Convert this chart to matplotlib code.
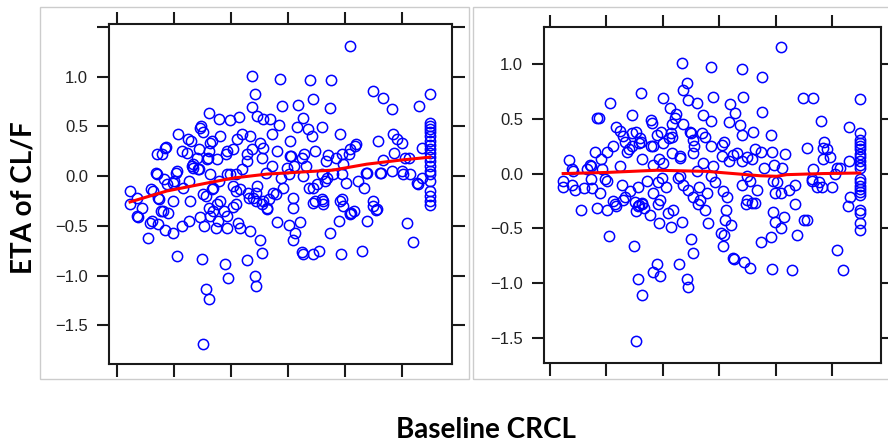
import numpy as np
import matplotlib
matplotlib.use("Agg")
import matplotlib.pyplot as plt
from matplotlib.patches import Rectangle

plt.rcParams["font.family"] = ["Liberation Sans", "DejaVu Sans"]

# ---- data: baseline CRCL vs ETA of CL/F, two panels
left_pts = [
    (101.8, 1.31), (67.4, 1.01), (77.2, 0.98), (87.7, 0.97), (95.1, 0.97), (68.4, 0.83), (88.8, 0.78), (109.8, 0.86),
    (113.3, 0.79), (129.8, 0.83), (67.4, 0.69), (77.9, 0.70), (83.5, 0.72), (94.7, 0.68), (116.5, 0.67), (126.0, 0.70),
    (52.3, 0.63), (62.8, 0.59), (69.1, 0.60), (71.2, 0.57), (73.7, 0.57), (76.8, 0.51), (55.8, 0.57), (59.6, 0.56),
    (85.3, 0.58), (87.0, 0.47), (91.9, 0.49), (83.2, 0.49), (98.2, 0.42), (49.1, 0.48), (50.2, 0.44), (41.4, 0.42),
    (44.9, 0.37), (52.6, 0.33), (56.1, 0.40), (63.9, 0.42), (66.7, 0.40), (62.1, 0.37), (70.2, 0.33), (74.4, 0.42),
    (80.7, 0.35), (88.4, 0.40), (103.5, 0.30), (111.6, 0.35), (116.8, 0.42), (118.2, 0.37), (120.0, 0.33), (127.0, 0.28),
    (130, 0.53), (130, 0.50), (130, 0.47), (130, 0.44), (130, 0.40), (130, 0.35), (130, 0.31), (130, 0.27), (130, 0.23),
    (130, 0.19), (130, 0.15), (130, 0.10), (130, 0.05), (130, 0.02), (130, -0.05), (130, -0.15), (130, -0.20),
    (130, -0.25), (130, -0.29),
    (36.8, 0.28), (34.0, 0.22), (42.8, 0.25), (44.5, 0.23), (48.8, 0.27), (51.9, 0.18), (46.7, 0.08), (55.1, 0.17),
    (58.6, 0.25), (60.7, 0.27), (65.6, 0.22), (71.2, 0.28), (76.1, 0.25), (80.7, 0.20), (85.6, 0.22), (89.5, 0.25),
    (94.0, 0.21), (99.0, 0.22), (101.8, 0.27), (99.3, 0.12), (113.3, 0.16), (116.5, 0.05), (121.0, 0.18), (125.6, -0.08),
    (122.8, 0.02), (107.7, 0.03), (112.3, 0.03), (120.4, 0.02), (104.6, -0.05),
    (24.6, -0.15), (24.6, -0.28), (27.0, -0.22), (28.8, -0.32), (27.0, -0.40), (34.0, 0.02), (37.5, -0.08), (34.4, -0.22),
    (32.6, -0.15), (39.6, -0.07), (41.0, 0.05), (43.2, -0.12), (45.6, -0.25), (39.6, -0.25), (36.1, -0.35), (37.9, -0.37),
    (46.7, 0.12), (48.4, 0.07), (52.6, 0.02), (50.2, -0.18), (53.7, -0.12), (56.1, -0.25), (59.6, 0.02), (60.7, -0.10),
    (63.2, -0.13), (66.0, -0.17), (67.7, -0.22), (69.1, -0.10), (71.2, -0.25), (72.6, -0.33), (74.7, -0.17), (78.2, -0.12),
    (79.6, 0.08), (81.8, -0.22), (81.8, -0.32), (85.3, 0.00), (88.8, -0.12), (89.5, -0.25), (92.3, -0.25), (93.0, -0.05),
    (95.8, 0.02), (98.2, -0.25), (99.3, -0.30), (101.8, -0.37), (109.8, -0.25), (111.2, -0.33),
    (27.4, -0.41), (30.9, -0.62), (31.6, -0.47), (34.4, -0.48), (36.8, -0.54), (39.6, -0.57), (42.8, -0.50), (45.3, -0.45),
    (41.0, -0.80), (49.8, -0.83), (57.9, -0.88), (58.9, -1.03), (51.2, -1.14), (52.3, -1.24), (50.2, -1.69), (65.6, -0.84),
    (70.9, -0.77), (68.4, -1.00), (68.8, -1.11), (70.2, -0.64), (66.7, -0.55), (63.2, -0.52), (62.5, -0.47), (58.6, -0.52),
    (54.7, -0.52), (50.5, -0.50), (49.1, -0.41), (52.6, -0.40), (55.4, -0.45), (58.6, -0.40), (53.7, -0.35), (60.7, -0.31),
    (72.6, -0.32), (76.1, -0.46), (80.4, -0.49), (81.8, -0.64), (82.5, -0.57), (84.2, -0.46), (84.9, -0.76), (85.3, -0.78),
    (88.8, -0.78), (90.9, -0.75), (94.7, -0.57), (97.9, -0.45), (98.6, -0.78), (101.8, -0.38), (106.0, -0.75), (107.7, -0.45),
    (109.8, -0.30), (110.9, -0.34), (121.8, -0.47), (123.9, -0.66), (88.8, -0.27), (92.3, -0.28), (102.1, -0.37), (103.2, -0.35),
    (37.2, 0.29), (35.8, 0.22), (33.7, 0.03), (36.5, -0.03), (40.7, 0.03), (40.0, -0.05), (31.9, -0.13), (34.7, -0.23),
    (35.4, -0.35), (32.3, -0.45), (45.3, -0.05), (46.3, 0.10), (48.8, 0.07), (48.1, 0.18), (46.0, 0.35), (49.5, 0.50),
    (52.3, 0.25), (51.6, 0.17), (53.3, 0.35), (58.2, 0.22), (58.6, 0.02), (55.8, -0.05), (53.3, -0.13), (51.2, -0.20),
    (52.3, -0.32), (55.1, -0.28), (57.5, -0.35), (61.8, -0.28), (61.8, -0.15), (66.3, -0.22), (68.8, -0.17), (68.8, -0.25),
    (70.9, -0.28), (73.3, -0.23), (75.8, -0.18), (61.8, 0.02), (63.9, 0.07), (65.6, 0.15), (67.4, 0.27), (70.9, 0.18),
    (72.3, 0.03), (74.4, 0.10), (77.5, -0.02), (80.4, 0.02), (82.1, 0.10), (81.1, 0.20), (84.9, 0.18), (86.3, 0.10),
    (87.4, -0.12), (90.2, -0.08), (91.9, 0.02), (93.7, -0.02), (91.9, -0.23), (93.3, 0.15), (96.8, 0.18), (98.9, 0.02),
    (100.4, -0.07), (98.9, -0.23), (101.4, 0.22), (103.9, 0.32), (106.7, -0.12), (107.4, 0.03), (112.6, 0.03), (117.2, 0.23),
    (120.0, 0.05), (122.5, 0.18), (125.3, -0.07), (127.0, -0.02),
]

right_pts = [
    (101.8, 1.15), (67.0, 1.01), (77.3, 0.97), (88.0, 0.95), (95.1, 0.88), (68.5, 0.83), (67.3, 0.76), (69.1, 0.67),
    (72.0, 0.64), (52.3, 0.73), (60.0, 0.69), (77.7, 0.70), (88.5, 0.70), (109.6, 0.69), (113.4, 0.69), (129.9, 0.68),
    (41.3, 0.64), (36.8, 0.51), (37.4, 0.51), (49.2, 0.53), (62.6, 0.60), (83.8, 0.63), (85.6, 0.55), (95.1, 0.56),
    (56.0, 0.49), (64.3, 0.51), (67.3, 0.45), (74.4, 0.53), (77.0, 0.48), (83.6, 0.47), (87.4, 0.44), (92.1, 0.38),
    (88.0, 0.35), (98.4, 0.35), (116.1, 0.48), (126.1, 0.42),
    (130, 0.37), (130, 0.31), (130, 0.28), (130, 0.25), (130, 0.22), (130, 0.18), (130, 0.15), (130, 0.11), (130, 0.08),
    (130, 0.05), (130, -0.05), (130, -0.08), (130, -0.11), (130, -0.14), (130, -0.17), (130, -0.20), (130, -0.33),
    (130, -0.36), (130, -0.45), (130, -0.51),
    (43.6, 0.42), (44.7, 0.39), (45.8, 0.34), (46.6, 0.29), (50.5, 0.38), (51.9, 0.32), (51.7, 0.28), (49.0, 0.25),
    (47.2, 0.20), (42.4, 0.25), (40.1, 0.20), (36.0, 0.20), (26.8, 0.12), (28.3, 0.02), (33.0, 0.04), (34.2, 0.08),
    (38.1, 0.13), (57.8, 0.35), (59.3, 0.38), (60.0, 0.28), (56.6, 0.25), (62.8, 0.37), (63.3, 0.33), (69.6, 0.38),
    (70.8, 0.31), (73.8, 0.37), (74.9, 0.33), (77.3, 0.25), (80.9, 0.26), (80.9, 0.16), (85.0, 0.17), (89.8, 0.15),
    (92.7, 0.22), (98.6, 0.20), (103.3, 0.18), (111.0, 0.23), (116.9, 0.23), (119.3, 0.15), (116.9, 0.13), (113.4, 0.04),
    (122.8, 0.05), (121.1, 0.00), (126.1, 0.11), (66.1, 0.16), (70.8, 0.19), (74.4, 0.10), (77.9, 0.07), (56.6, 0.08),
    (60.2, 0.10), (44.8, 0.07),
    (24.7, -0.07), (24.7, -0.12), (27.7, -0.10), (28.9, -0.15), (31.2, -0.33), (36.6, -0.31), (40.1, -0.33), (37.7, -0.18),
    (40.1, -0.07), (34.8, -0.13), (32.0, -0.13), (42.4, -0.25), (45.8, -0.24), (48.4, -0.16), (51.3, -0.12), (54.3, -0.07),
    (58.4, -0.08), (56.6, -0.18), (59.0, -0.24), (65.5, -0.04), (67.3, -0.10), (69.0, -0.15), (70.8, -0.21), (73.2, -0.24),
    (75.6, -0.18), (78.5, -0.08), (81.5, -0.16), (82.7, -0.21), (88.0, -0.10), (90.9, -0.07), (89.8, -0.24), (91.5, -0.27),
    (99.2, -0.07), (99.8, -0.18), (104.9, -0.15), (106.9, -0.10), (106.9, -0.28), (112.8, -0.07), (114.6, -0.12),
    (119.9, -0.12), (126.4, -0.21), (125.8, -0.30),
    (43.0, -0.28), (41.0, -0.57), (49.8, -0.66), (51.3, -0.96), (52.5, -1.11), (50.4, -1.53), (56.6, -0.90), (58.0, -0.82),
    (59.0, -0.93), (65.9, -0.82), (68.5, -0.96), (68.8, -1.03), (70.2, -0.60), (70.8, -0.72), (66.7, -0.44), (62.8, -0.49),
    (58.8, -0.45), (55.5, -0.38), (52.5, -0.28), (50.7, -0.34), (51.3, -0.30), (58.4, -0.28), (61.9, -0.36), (63.7, -0.33),
    (72.6, -0.28), (75.0, -0.33), (75.9, -0.45), (80.6, -0.54), (82.1, -0.42), (82.3, -0.33), (84.1, -0.47), (81.6, -0.56),
    (81.5, -0.66), (84.8, -0.77), (85.3, -0.78), (88.8, -0.81), (90.9, -0.86), (89.5, -0.28), (92.7, -0.27), (94.8, -0.62),
    (98.3, -0.58), (98.6, -0.87), (99.2, -0.35), (99.8, -0.44), (101.8, -0.50), (103.0, -0.40), (105.7, -0.88),
    (107.5, -0.56), (110.1, -0.42), (111.0, -0.42), (121.7, -0.70), (123.8, -0.88),
    (27.9, 0.04), (34.4, 0.07), (34.4, -0.05), (38.5, 0.04), (39.7, -0.05), (43.3, -0.30), (45.6, -0.10), (46.8, -0.21),
    (50.0, -0.26), (51.5, -0.29), (52.8, -0.27), (53.5, -0.31), (48.0, 0.22), (49.2, 0.37), (52.2, 0.29), (52.7, 0.13),
    (55.7, 0.25), (56.3, 0.46), (58.7, 0.13), (59.8, -0.04), (61.0, -0.12), (62.2, 0.32), (63.4, 0.45), (64.6, 0.54),
    (63.4, 0.19), (66.3, 0.14), (66.3, -0.02), (69.9, 0.37), (71.1, 0.25), (72.2, 0.02), (72.8, -0.12), (77.0, -0.02),
    (81.7, 0.29), (83.5, 0.11), (86.4, 0.19), (88.2, 0.11), (90.0, -0.02), (91.7, 0.13), (93.5, -0.15), (94.7, 0.20),
    (95.9, 0.05), (99.4, 0.08), (100.6, -0.08), (101.8, -0.18), (102.4, 0.05), (113.1, -0.05), (115.4, -0.08),
    (116.6, -0.12), (117.2, 0.29), (118.3, 0.22), (121.8, 0.05),
]

# loess smoother as drawn
left_fit_x = [24.6, 37.5, 51.6, 60.7, 72.6, 84.2, 95.8, 107.7, 119.3, 129.8]
left_fit_y = [-0.26, -0.15, -0.07, -0.02, 0.02, 0.04, 0.06, 0.12, 0.16, 0.19]
right_fit_x = [24.7, 40.1, 57.8, 75.6, 85.0, 94.5, 100.4, 103.9, 116.9, 129.9]
right_fit_y = [0.00, 0.01, 0.03, 0.02, 0.00, -0.02, -0.025, -0.01, 0.00, 0.005]

x_ticks = [20, 40, 60, 80, 100, 120]

fig = plt.figure(figsize=(8.88, 4.44), dpi=100)

# light grey frames around each panel (pasted-image look)
for x0, w in [(0.045, 0.4831), (0.5327, 0.47)]:
    fig.add_artist(Rectangle((x0, 0.1464), w, 0.8378, transform=fig.transFigure,
                             fill=False, ec="#cccccc", lw=1.0))

ax1 = fig.add_axes([0.1227, 0.1802, 0.3863, 0.7658])
ax2 = fig.add_axes([0.6126, 0.1824, 0.3795, 0.7568])

panels = [
    (ax1, left_pts, left_fit_x, left_fit_y, (17.2, 137.6), (-1.89, 1.53),
     [-1.5, -1.0, -0.5, 0.0, 0.5, 1.0, 1.5]),
    (ax2, right_pts, right_fit_x, right_fit_y, (17.9, 137.4), (-1.727, 1.336),
     [-1.5, -1.0, -0.5, 0.0, 0.5, 1.0]),
]

for ax, pts, fx, fy, xl, yl, yt in panels:
    arr = np.array(pts)
    ax.plot(arr[:, 0], arr[:, 1], "o", ms=7.4, mfc="none", mec="#0000ff", mew=1.1)
    ax.plot(fx, fy, color="red", lw=2.2)
    ax.set_xlim(*xl)
    ax.set_ylim(*yl)
    ax.set_xticks(x_ticks)
    ax.set_yticks(yt)
    labs = [("" if v > 1.2 else f"{v:.1f}".replace("-", "\u2212")) for v in yt]
    ax.set_yticklabels(labs)
    ax.tick_params(direction="out", length=9, width=1.5, color="#1a1a1a",
                   top=True, right=True, labelbottom=False, labelsize=12,
                   labelcolor="#222222", pad=6)
    for s in ax.spines.values():
        s.set_linewidth(1.5)
        s.set_color("#1a1a1a")

fig.text(0.026, 0.556, "ETA of CL/F", rotation=90, ha="center", va="center",
         fontsize=20, fontweight="bold", family="Lato")
fig.text(0.547, 0.032, "Baseline CRCL", ha="center", va="center",
         fontsize=20, fontweight="bold", family="Lato")

fig.savefig("out.png", dpi=100)
